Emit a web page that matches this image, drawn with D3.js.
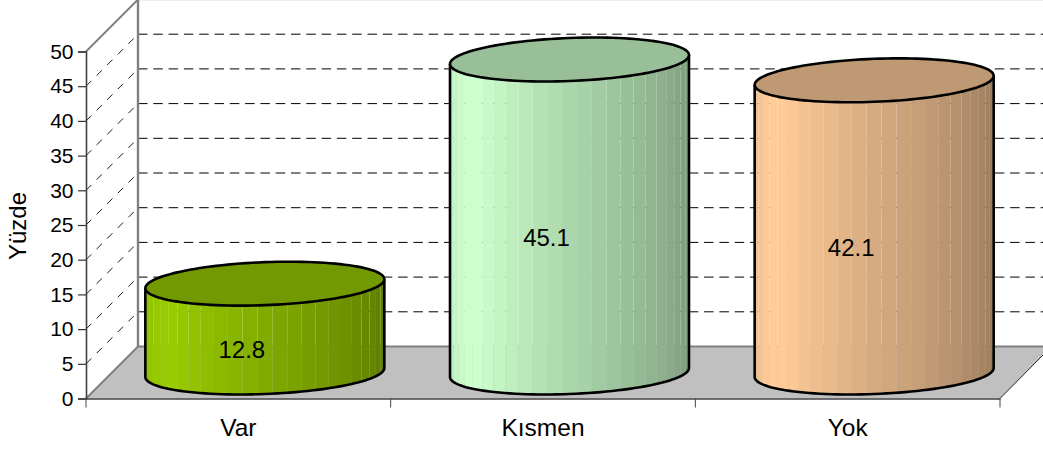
<!DOCTYPE html>
<html><head><meta charset="utf-8">
<script src="https://cdn.jsdelivr.net/npm/d3@7"></script>
<style>html,body{margin:0;padding:0;background:#fff}svg{display:block}text{font-family:"Liberation Sans",Arial,sans-serif;font-size:24px;fill:#000}</style>
</head><body><svg id="c" width="1043" height="450"></svg>
<script>
const categories = ["Var", "Kısmen", "Yok"];
const values = [12.8, 45.1, 42.1];
const baseColors = ["#99CC00", "#CCFFCC", "#FFCC99"];
const yTicks = [0,5,10,15,20,25,30,35,40,45,50];
const yTitle = "Yüzde";

const W=1043,H=450;
const svg=d3.select("#c");
const x=d3.scaleBand().domain(categories).range([86,1000]);
const y=d3.scaleLinear().domain([0,50]).range([398.5,51.5]);
const dx=52, dy=-52;
const gridDash="9.5 5.8", wallDash="7.5 7.5";

// floor
svg.append("path").attr("d",d3.line()([[86,y(0)],[138,y(0)+dy],[1043,y(0)+dy],[1043,355],[1000,y(0)]])).attr("fill","#c0c0c0");
svg.append("line").attr("x1",138).attr("x2",1043).attr("y1",y(0)+dy).attr("y2",y(0)+dy).attr("stroke","#808080").attr("stroke-width",2);
svg.append("line").attr("x1",1000).attr("y1",y(0)).attr("x2",1043).attr("y2",355).attr("stroke","#222").attr("stroke-width",1);

// gridlines
yTicks.filter(d=>d>0&&d<50).forEach(v=>{
  svg.append("line").attr("x1",86).attr("y1",y(v)).attr("x2",138).attr("y2",y(v)+dy)
    .attr("stroke","#000").attr("stroke-width",.9).attr("stroke-dasharray",wallDash);
  svg.append("line").attr("x1",138).attr("x2",1043).attr("y1",y(v)+dy).attr("y2",y(v)+dy)
    .attr("stroke","#000").attr("stroke-width",1).attr("stroke-dasharray",gridDash);
});
svg.append("line").attr("x1",138).attr("x2",1043).attr("y1",y(50)+dy+.5).attr("y2",y(50)+dy+.5).attr("stroke","#ddd").attr("stroke-width",1);
// walls
svg.append("line").attr("x1",138).attr("x2",138).attr("y1",0).attr("y2",y(0)+dy).attr("stroke","#808080").attr("stroke-width",2.4);
svg.append("line").attr("x1",86).attr("y1",y(50)).attr("x2",138).attr("y2",y(50)+dy).attr("stroke","#808080").attr("stroke-width",2);
svg.append("line").attr("x1",86).attr("y1",y(0)).attr("x2",138).attr("y2",y(0)+dy).attr("stroke","#808080").attr("stroke-width",2);

// cylinders
const A=119.5,B=21.5,T=4.5,N=25;
const shade=d3.scaleLinear().domain([0,30,40,90,130,180]).range([.9,1,1,.84,.72,.58]);
function pt(cx,cy,t){return [cx+A*Math.cos(t),cy+B*Math.sin(t)+T*Math.cos(t)*(-1)];}
categories.forEach((c,i)=>{
  const cx=x(c)+x.bandwidth()/2+dx/2+.5, yb=y(0)+dy/2, yt=y(values[i])+dy/2;
  const col=d3.color(baseColors[i]);
  const g=svg.append("g");
  d3.range(N).forEach(k=>{
    const t0=Math.PI-k*Math.PI/N,t1=Math.PI-(k+1)*Math.PI/N;
    const deg=(k+.5)*180/N, s=shade(deg);
    const pts=[pt(cx,yt,t0),pt(cx,yt,t1),pt(cx,yb,t1),pt(cx,yb,t0)];
    g.append("path").attr("d",d3.line()(pts)+"Z")
      .attr("fill",d3.rgb(col.r*s,col.g*s,col.b*s).formatHex());
  });
  const bottom=d3.range(0,61).map(k=>pt(cx,yb,Math.PI-k*Math.PI/60));
  const outline=d3.line()([pt(cx,yt,Math.PI),...bottom,pt(cx,yt,0)]);
  g.append("path").attr("d",outline).attr("fill","none").attr("stroke","#000").attr("stroke-width",2.6).attr("stroke-linejoin","round");
  const top=d3.range(0,121).map(k=>pt(cx,yt,k*Math.PI/60));
  g.append("path").attr("d",d3.line()(top)+"Z").attr("fill",d3.rgb(col.r*.75,col.g*.75,col.b*.75).formatHex())
    .attr("stroke","#000").attr("stroke-width",2.6).attr("stroke-linejoin","round");
  svg.append("text").attr("x",x(c)+x.bandwidth()/2+3.5).attr("y",(y(values[i])+y(0))/2-5).attr("dy","0.36em")
    .attr("text-anchor","middle").text(values[i].toFixed(1));
});

// axes
const yAxis=d3.axisLeft(y).tickValues(yTicks).tickSize(8).tickPadding(4.5);
const ga=svg.append("g").attr("transform","translate(86,0)").call(yAxis);
ga.select(".domain").attr("stroke","#404040").attr("stroke-width",1.6);
ga.selectAll(".tick line").attr("stroke","#333").attr("stroke-width",1.2);
ga.selectAll("text").style("font-size","21px").style("font-family",'"Liberation Sans",Arial,sans-serif').attr("fill","#000");
const xAxis=d3.axisBottom(x).tickSize(0).tickPadding(20);
const gx=svg.append("g").attr("transform",`translate(0,${y(0)})`).call(xAxis);
gx.select(".domain").attr("stroke","#404040").attr("stroke-width",1.6);
gx.selectAll("text").style("font-size","24.5px").style("font-family",'"Liberation Sans",Arial,sans-serif').attr("fill","#000");
[...categories.map(c=>x(c)),1000].forEach(px=>{
  svg.append("line").attr("x1",px).attr("x2",px).attr("y1",y(0)).attr("y2",y(0)+9).attr("stroke","#444").attr("stroke-width",1);
});
svg.append("text").attr("transform","translate(26,226) rotate(-90)").attr("text-anchor","middle").text(yTitle);
</script></body></html>
